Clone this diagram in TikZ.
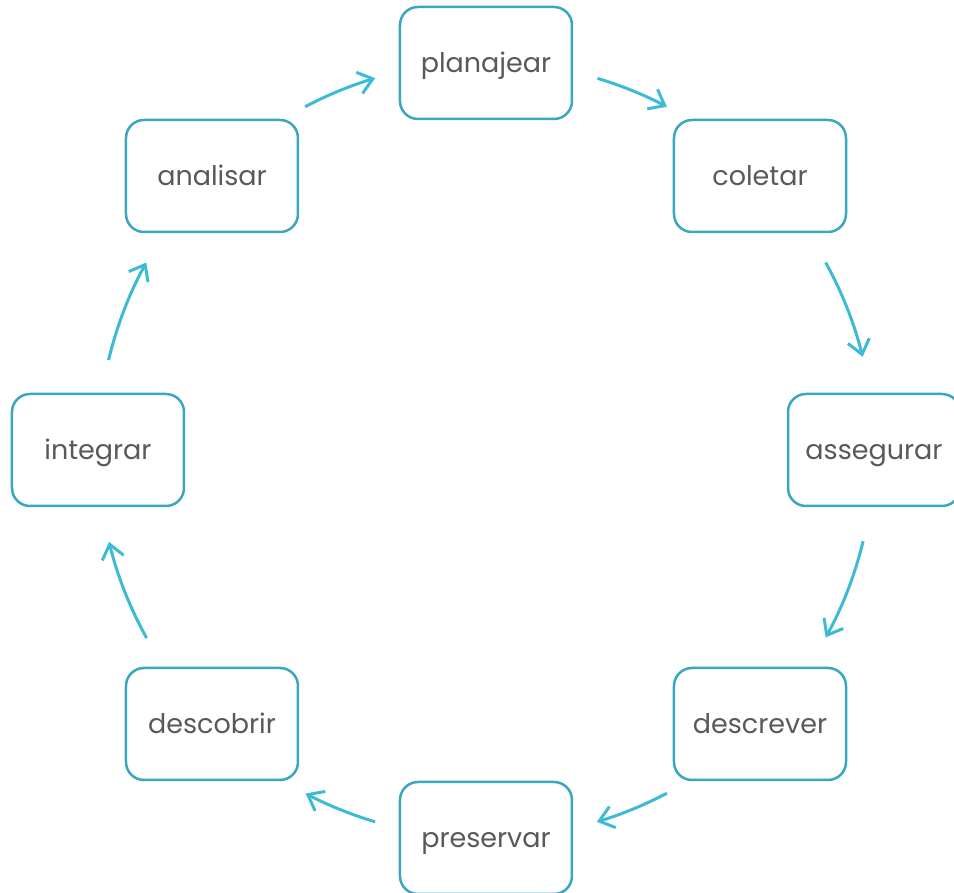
\documentclass[tikz,border=0pt]{standalone}
\usepackage{fontspec}
\setmainfont{Poppins}
\usetikzlibrary{arrows.meta}
\definecolor{boxline}{HTML}{3AA6C0}
\definecolor{arrowc}{HTML}{3DBBD4}
\definecolor{txt}{HTML}{595959}
\tikzset{
  stage/.style={draw=boxline, line width=2.5pt, rounded corners=18pt,
    minimum width=172pt, minimum height=112pt, inner sep=0pt,
    text height=26pt, text depth=6pt,
    font=\fontsize{27}{32}\selectfont, text=txt},
  cyc/.style={draw=arrowc, line width=3pt,
    -{Straight Barb[length=14pt,width=22pt,line width=3pt]}}
}
\begin{document}
\begin{tikzpicture}[x=1pt,y=1pt]
\useasboundingbox (-486,-443) rectangle (468,450);
\node[stage] (planajear) at (0,387) {planajear};
\node[stage] (coletar) at (274,274) {coletar};
\node[stage] (assegurar) at (388,0) {assegurar};
\node[stage] (descrever) at (274,-274) {descrever};
\node[stage] (preservar) at (0,-388) {preservar};
\node[stage] (descobrir) at (-274,-274) {descobrir};
\node[stage] (integrar) at (-388,0) {integrar};
\node[stage] (analisar) at (-274,274) {analisar};
\coordinate (s1) at (73.3:388);
\coordinate (s2) at (28.9:388);
\coordinate (s3) at (-13.6:388);
\coordinate (s4) at (-62.2:388);
\coordinate (s5) at (-106.6:388);
\coordinate (s6) at (-151:388);
\coordinate (s7) at (166.6:388);
\coordinate (s8) at (117.8:388);
\draw[cyc] (s1) arc[start angle=73.3, end angle=62.2, radius=388];
\draw[cyc] (s2) arc[start angle=28.9, end angle=13.9, radius=388];
\draw[cyc] (s3) arc[start angle=-13.6, end angle=-28.9, radius=388];
\draw[cyc] (s4) arc[start angle=-62.2, end angle=-73.4, radius=388];
\draw[cyc] (s5) arc[start angle=-106.6, end angle=-117.7, radius=388];
\draw[cyc] (s6) arc[start angle=-151, end angle=-166.3, radius=388];
\draw[cyc] (s7) arc[start angle=166.6, end angle=151.1, radius=388];
\draw[cyc] (s8) arc[start angle=117.8, end angle=106.6, radius=388];
\end{tikzpicture}
\end{document}
